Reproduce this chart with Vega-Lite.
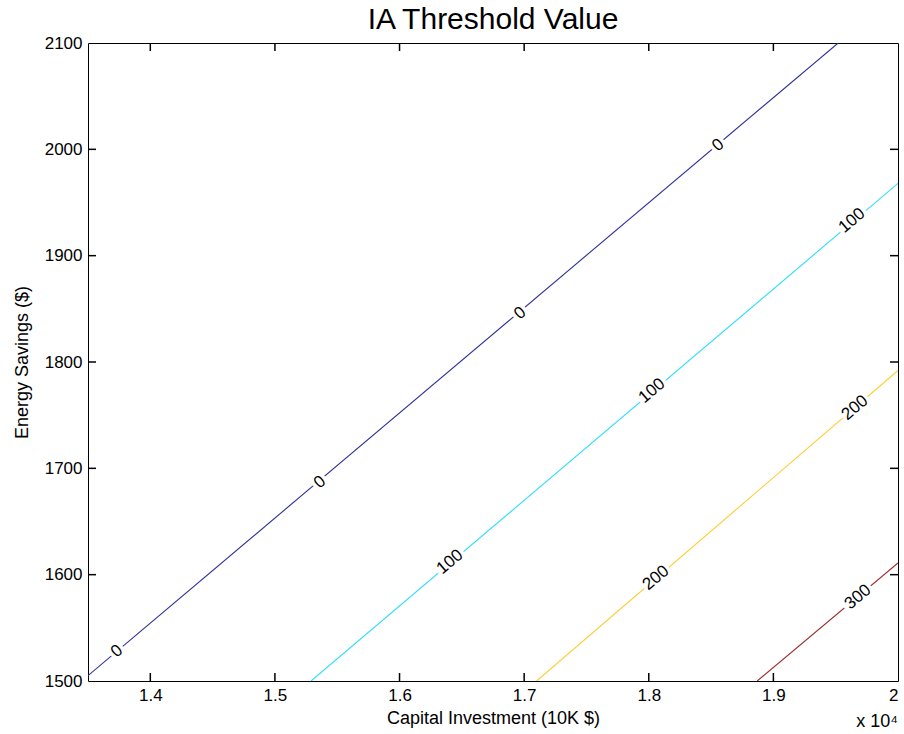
{
  "$schema": "https://vega.github.io/schema/vega-lite/v6.json",
  "width": 810,
  "height": 638,
  "autosize": {"type": "none"},
  "padding": {"left": 88, "top": 43, "right": 6, "bottom": 53},
  "background": "white",
  "title": {
    "text": "IA Threshold Value",
    "fontSize": 30,
    "font": "Liberation Sans, Arial",
    "fontWeight": "normal",
    "color": "black",
    "anchor": "middle",
    "offset": -1
  },
  "config": {
    "view": {"stroke": "black", "strokeWidth": 1},
    "axis": {
      "grid": false,
      "domain": false,
      "ticks": false,
      "labelColor": "black",
      "labelFont": "Liberation Sans, Arial",
      "labelFontSize": 17,
      "titleFont": "Liberation Sans, Arial",
      "titleFontSize": 18,
      "titleFontWeight": "normal",
      "titleColor": "black"
    }
  },
  "datasets": {
    "contours": [
      {"level": "0", "x": 13500, "y": 1505},
      {"level": "0", "x": 19520, "y": 2100},
      {"level": "100", "x": 15290, "y": 1500},
      {"level": "100", "x": 20000, "y": 1968},
      {"level": "200", "x": 17100, "y": 1500},
      {"level": "200", "x": 20000, "y": 1792},
      {"level": "300", "x": 18870, "y": 1500},
      {"level": "300", "x": 20000, "y": 1611}
    ],
    "labels": [
      {"level": "0", "x": 13733, "y": 1528},
      {"level": "0", "x": 15362, "y": 1687},
      {"level": "0", "x": 16967, "y": 1846},
      {"level": "0", "x": 18556, "y": 2004},
      {"level": "100", "x": 16405, "y": 1612},
      {"level": "100", "x": 18026, "y": 1773},
      {"level": "100", "x": 19631, "y": 1933},
      {"level": "200", "x": 18058, "y": 1597},
      {"level": "200", "x": 19655, "y": 1757},
      {"level": "300", "x": 19679, "y": 1579}
    ],
    "xticks": [
      {"x": 14000}, {"x": 15000}, {"x": 16000},
      {"x": 17000}, {"x": 18000}, {"x": 19000}
    ],
    "yticks": [
      {"y": 1600}, {"y": 1700}, {"y": 1800}, {"y": 1900}, {"y": 2000}
    ],
    "exponent": [
      {"x": 20000, "y": 1500, "note": "x 10⁴"}
    ]
  },
  "layer": [
    {
      "data": {"name": "contours"},
      "mark": {"type": "line", "strokeWidth": 1.1, "clip": true},
      "encoding": {
        "x": {
          "field": "x",
          "type": "quantitative",
          "scale": {"domain": [13500, 20000], "nice": false, "zero": false},
          "axis": {
            "title": "Capital Investment (10K $)",
            "values": [14000, 15000, 16000, 17000, 18000, 19000, 20000],
            "labelExpr": "format(datum.value / 10000, '~g')",
            "labelPadding": 6,
            "titlePadding": 6
          }
        },
        "y": {
          "field": "y",
          "type": "quantitative",
          "scale": {"domain": [1500, 2100], "nice": false, "zero": false},
          "axis": {
            "title": "Energy Savings ($)",
            "values": [1500, 1600, 1700, 1800, 1900, 2000, 2100],
            "format": "d",
            "labelPadding": 6,
            "titlePadding": 13
          }
        },
        "color": {
          "field": "level",
          "type": "nominal",
          "scale": {
            "domain": ["0", "100", "200", "300"],
            "range": ["#2f2f9c", "#2fdcff", "#ffcc2f", "#9c2f2f"]
          },
          "legend": null
        },
        "detail": {"field": "level"}
      }
    },
    {
      "data": {"name": "xticks"},
      "mark": {"type": "rule", "color": "black", "strokeWidth": 1.5, "y2Offset": -8},
      "encoding": {
        "x": {"field": "x", "type": "quantitative", "axis": null},
        "y": {"datum": 1500, "type": "quantitative", "axis": null},
        "y2": {"datum": 1500}
      }
    },
    {
      "data": {"name": "xticks"},
      "mark": {"type": "rule", "color": "black", "strokeWidth": 1.5, "y2Offset": 8},
      "encoding": {
        "x": {"field": "x", "type": "quantitative", "axis": null},
        "y": {"datum": 2100, "type": "quantitative", "axis": null},
        "y2": {"datum": 2100}
      }
    },
    {
      "data": {"name": "yticks"},
      "mark": {"type": "rule", "color": "black", "strokeWidth": 1.5, "x2Offset": 8},
      "encoding": {
        "y": {"field": "y", "type": "quantitative", "axis": null},
        "x": {"datum": 13500, "type": "quantitative", "axis": null},
        "x2": {"datum": 13500}
      }
    },
    {
      "data": {"name": "yticks"},
      "mark": {"type": "rule", "color": "black", "strokeWidth": 1.5, "x2Offset": -8},
      "encoding": {
        "y": {"field": "y", "type": "quantitative", "axis": null},
        "x": {"datum": 20000, "type": "quantitative", "axis": null},
        "x2": {"datum": 20000}
      }
    },
    {
      "data": {"name": "labels"},
      "mark": {
        "type": "text",
        "angle": 320,
        "font": "Liberation Sans, Arial",
        "fontSize": 17,
        "fill": "white",
        "stroke": "white",
        "strokeWidth": 7,
        "align": "center",
        "baseline": "middle"
      },
      "encoding": {
        "x": {"field": "x", "type": "quantitative", "axis": null},
        "y": {"field": "y", "type": "quantitative", "axis": null},
        "text": {"field": "level"}
      }
    },
    {
      "data": {"name": "labels"},
      "mark": {
        "type": "text",
        "angle": 320,
        "font": "Liberation Sans, Arial",
        "fontSize": 17,
        "color": "black",
        "align": "center",
        "baseline": "middle"
      },
      "encoding": {
        "x": {"field": "x", "type": "quantitative", "axis": null},
        "y": {"field": "y", "type": "quantitative", "axis": null},
        "text": {"field": "level"}
      }
    },
    {
      "data": {"name": "exponent"},
      "mark": {
        "type": "text",
        "font": "Liberation Sans, Arial",
        "fontSize": 18,
        "color": "black",
        "align": "right",
        "baseline": "middle",
        "dy": 41
      },
      "encoding": {
        "x": {"field": "x", "type": "quantitative", "axis": null},
        "y": {"field": "y", "type": "quantitative", "axis": null},
        "text": {"field": "note"}
      }
    }
  ],
  "resolve": {"axis": {"x": "independent", "y": "independent"}}
}
